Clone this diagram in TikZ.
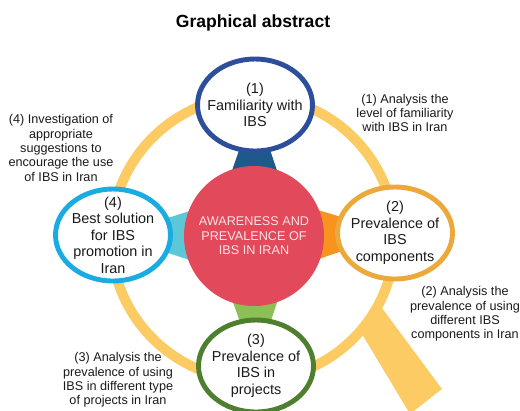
\documentclass[tikz,border=0pt]{standalone}
\usepackage{fontspec}
\setmainfont{Liberation Sans}
\usetikzlibrary{positioning, shapes.geometric, calc, backgrounds}
\definecolor{ringyellow}{HTML}{FDCB63}
\definecolor{corered}{HTML}{E2495A}
\definecolor{coretext}{HTML}{FDE3E6}
\definecolor{navyline}{HTML}{2D4F9B}
\definecolor{navyfill}{HTML}{1D5A89}
\definecolor{skyline}{HTML}{1AABE3}
\definecolor{skyfill}{HTML}{5CC8D7}
\definecolor{goldline}{HTML}{EAA93A}
\definecolor{goldfill}{HTML}{F7931E}
\definecolor{leafline}{HTML}{4E7F2E}
\definecolor{leaffill}{HTML}{8CBF55}
\definecolor{textmain}{HTML}{1A1A1A}

\begin{document}
\begin{tikzpicture}[
    x=0.02cm, y=-0.02cm,
    sat/.style={ellipse, fill=white, line width=2.8pt, inner sep=-12pt,
                minimum width=2.3cm, minimum height=1.84cm, align=center,
                font=\fontsize{8.2}{9.4}\selectfont, text=textmain},
    core/.style={circle, fill=corered, minimum size=2.8cm, inner sep=0pt,
                 align=center, text=coretext, font=\fontsize{7.2}{8.2}\selectfont},
    note/.style={align=center, inner sep=0pt, text=textmain,
                 font=\fontsize{7.2}{8.2}\selectfont},
    ttl/.style={font=\fontsize{10}{12}\selectfont\bfseries, text=black}
  ]
    \useasboundingbox (0,0) rectangle (520,410);

    \node[ttl] (title) at (253,23) {Graphical abstract};

    \node[core] (aware) at (254,236) {AWARENESS AND\\PREVALENCE OF\\IBS IN IRAN};

    \node[sat, draw=navyline] (famil) at (255,105) {(1)\\Familiarity with\\IBS};
    \node[sat, draw=goldline] (compo) at (395,233) {(2)\\Prevalence of\\IBS\\components};
    \node[sat, draw=leafline] (proje) at (256,366) {(3)\\Prevalence of\\IBS in\\projects};
    \node[sat, draw=skyline]  (promo) at (113,235) {(4)\\Best solution\\for IBS\\promotion in\\Iran};

    \node[note] (an1) at (405,113) {(1) Analysis the\\level of familiarity\\with IBS in Iran};
    \node[note] (an2) at (465,314) {(2) Analysis the\\prevalence of using\\different IBS\\components in Iran};
    \node[note] (an3) at (118,380) {(3) Analysis the\\prevalence of using\\IBS in different type\\of projects in Iran};
    \node[note] (an4) at (61,148) {(4) Investigation of\\appropriate\\suggestions to\\encourage the use\\of IBS in Iran};

    \coordinate (lens) at (253,238);

    \begin{pgfonlayer}{background}
      % magnifier handle and rim
      \fill[ringyellow] (362,334) -- (382,308) -- (442,389) -- (410,414) -- cycle;
      \draw[ringyellow, line width=0.2cm] (lens) circle (142);
      % wedges from the core to each topic
      \fill[navyfill] ($(aware)+(-45,0)$) -- ($(aware)+(45,0)$) -- (famil.center) -- cycle;
      \fill[goldfill] ($(aware)+(0,-45)$) -- ($(aware)+(0,45)$) -- (compo.center) -- cycle;
      \fill[leaffill] ($(aware)+(-45,0)$) -- ($(aware)+(45,0)$) -- (proje.center) -- cycle;
      \fill[skyfill]  ($(aware)+(0,-45)$) -- ($(aware)+(0,45)$) -- (promo.center) -- cycle;
    \end{pgfonlayer}
  \end{tikzpicture}
\end{document}
